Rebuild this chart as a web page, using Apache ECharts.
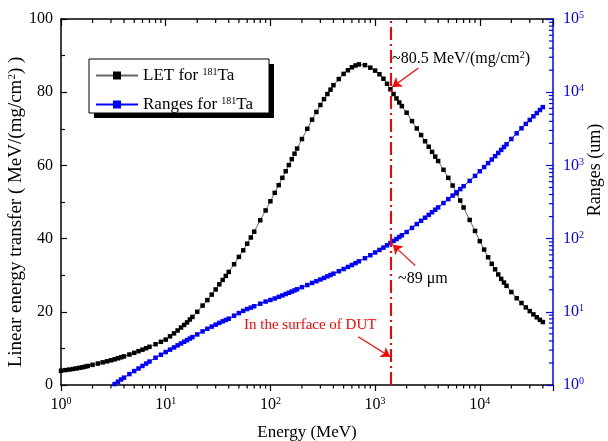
<!DOCTYPE html>
<html>
<head>
<meta charset="utf-8">
<script src="https://cdn.jsdelivr.net/npm/echarts@6/dist/echarts.min.js"></script>
<style>
  html, body { margin: 0; padding: 0; background: #fff; }
  #main { width: 608px; height: 441px; }
</style>
</head>
<body>
<div id="main"></div>
<script>
// energies (MeV), SRIM style grid
const energies = [
  1, 1.1, 1.2, 1.3, 1.4, 1.5, 1.6, 1.7, 1.8, 2, 2.25, 2.5, 2.75, 3, 3.25, 3.5, 3.75, 4, 4.5, 5, 5.5, 6, 6.5, 7, 8, 9,
  10, 11, 12, 13, 14, 15, 16, 17, 18, 20, 22.5, 25, 27.5, 30, 32.5, 35, 37.5, 40, 45, 50, 55, 60, 65, 70, 80, 90,
  100, 110, 120, 130, 140, 150, 160, 170, 180, 200, 225, 250, 275, 300, 325, 350, 375, 400, 450, 500, 550, 600, 650, 700, 800, 900,
  1000, 1100, 1200, 1300, 1400, 1500, 1600, 1700, 1800, 2000, 2250, 2500, 2750, 3000, 3250, 3500, 3750, 4000, 4500, 5000, 5500, 6000, 6500, 7000, 8000, 9000,
  10000, 11000, 12000, 13000, 14000, 15000, 16000, 17000, 18000, 20000, 22500, 25000, 27500, 30000, 32500, 35000, 37500, 40000
]
// LET, MeV/(mg/cm2)
const letValues = [
  3.9, 4.07, 4.22, 4.37, 4.53, 4.68, 4.83, 5.01, 5.19, 5.51, 5.86, 6.19, 6.47, 6.74, 7.01, 7.30, 7.57, 7.82, 8.33, 8.79, 9.24, 9.66, 10.05, 10.44, 11.14, 11.8,
  12.4, 13.3, 14.1, 14.9, 15.7, 16.4, 17.1, 17.9, 18.6, 20.0, 21.7, 23.2, 24.7, 26.1, 27.5, 28.7, 29.8, 30.9, 33.0, 35.0, 36.8, 38.6, 40.3, 41.9, 45.0, 47.7,
  50.2, 52.5, 54.6, 56.6, 58.4, 60.1, 61.7, 63.2, 64.6, 67.2, 70.0, 72.5, 74.6, 76.5, 78.1, 79.5, 80.7, 81.9, 83.6, 85.0, 86.0, 86.8, 87.3, 87.6, 87.4, 86.7,
  85.9, 84.9, 83.7, 82.3, 80.8, 79.5, 78.3, 77.2, 76.2, 74.4, 72.1, 70.1, 68.3, 66.6, 65.1, 63.7, 62.4, 61.2, 58.8, 56.6, 54.5, 52.4, 50.4, 48.5, 45.1, 42.1,
  39.3, 37.0, 34.9, 33.1, 31.6, 30.2, 29.0, 28.0, 27.1, 25.4, 23.7, 22.4, 21.2, 20.2, 19.3, 18.5, 17.8, 17.2
]
// projected range, um (below 1 um not shown)
const rangeValues = [
  null, null, null, null, null, null, null, null, null, null, null, null, null, null, 1.03, 1.11, 1.19, 1.26, 1.41, 1.55, 1.68, 1.82, 1.96, 2.09, 2.36, 2.59,
  2.82, 3.04, 3.26, 3.48, 3.69, 3.90, 4.10, 4.31, 4.51, 4.91, 5.40, 5.86, 6.27, 6.67, 7.05, 7.40, 7.73, 8.05, 8.85, 9.6, 10.3, 10.9, 11.4, 11.9, 12.9, 13.8,
  14.5, 15.2, 16.0, 16.7, 17.5, 18.2, 18.9, 19.6, 20.3, 21.7, 23.2, 24.8, 26.2, 27.6, 29.0, 30.5, 31.8, 33.2, 35.8, 38.4, 41.0, 43.6, 46.2, 48.9, 54.0, 59.3,
  64.6, 70.0, 75.3, 80.9, 86.9, 92.9, 98.6, 105, 111, 123, 140, 158, 175, 193, 211, 229, 248, 267, 306, 346, 387, 431, 474, 520, 615, 719,
  832, 949, 1074, 1202, 1337, 1479, 1629, 1782, 1945, 2296, 2742, 3214, 3690, 4178, 4677, 5188, 5715, 6250
]
const dutEnergy = 1400

// minor ticks for the log axes
const xMinorTicks = []
for (let d = 1; d <= 10000; d *= 10) {
  for (let k = 2; k <= 9; k++) if (k * d < 50000) xMinorTicks.push(k * d)
}
const yMinorTicks = []
for (let d = 1; d <= 10000; d *= 10) {
  for (let k = 2; k <= 9; k++) yMinorTicks.push(k * d)
}

const letData = energies.map((e, i) => [e, letValues[i]])
const rangeData = energies.map((e, i) => [e, rangeValues[i]]).filter(p => p[1] != null)

const FONT = 'Liberation Serif'
const supRich = { sup: { fontSize: 10, fontFamily: FONT, verticalAlign: 'top', padding: [0, 0, 7, 0] } }
const powLabel = (v) => {
  const e = Math.log10(v)
  if (Math.abs(e - Math.round(e)) > 1e-6) return ''
  return '10{sup|' + Math.round(e) + '}'
}

const myChart = echarts.init(document.getElementById('main'))
const option = {
  animation: false,
  textStyle: { fontFamily: FONT },
  grid: { left: 61, right: 55, top: 19, bottom: 56, outerBoundsMode: 'none', containLabel: false },
  legend: {
    data: ['LET', 'Ranges'],
    orient: 'vertical',
    left: 89,
    top: 59,
    itemWidth: 42,
    itemHeight: 10,
    itemGap: 12,
    padding: [8, 14, 8, 6],
    formatter: (name) => name + ' for {sup|181}Ta',
    textStyle: { fontSize: 17, color: '#000', fontFamily: FONT, rich: supRich },
    z: 10
  },
  xAxis: [
    {
      type: 'log', logBase: 10, min: 1, max: 50000,
      name: 'Energy (MeV)', nameLocation: 'middle', nameGap: 39,
      nameTextStyle: { fontSize: 17, color: '#000', fontFamily: FONT },
      axisLine: { lineStyle: { color: '#000', width: 1.5 } },
      axisTick: { inside: false, length: 6, lineStyle: { color: '#000', width: 1.2 } },
      axisLabel: { formatter: powLabel, color: '#000', fontSize: 16, margin: 11, rich: supRich },
      splitLine: { show: false }
    },
    {
      type: 'log', logBase: 10, min: 1, max: 50000, position: 'top',
      axisLine: { lineStyle: { color: '#000', width: 1.5 } },
      axisTick: { inside: true, length: 7, lineStyle: { color: '#000', width: 1.2 } },
      axisLabel: { show: false },
      splitLine: { show: false }
    }
  ],
  yAxis: [
    {
      type: 'value', min: 0, max: 100, interval: 20,
      name: 'Linear energy transfer ( MeV/(mg/cm{sup|2}) )', nameLocation: 'middle', nameGap: 35, nameRotate: 90,
      nameMoveOverlap: false,
      nameTextStyle: { fontSize: 19, color: '#000', fontFamily: FONT, padding: [0, 20, 0, 0], rich: { sup: { fontSize: 11, fontFamily: FONT, verticalAlign: 'top', padding: [0, 0, 8, 0] } } },
      axisLine: { lineStyle: { color: '#000', width: 1.5 } },
      axisTick: { inside: true, length: 6, lineStyle: { color: '#000', width: 1.2 } },
      minorTick: { show: true, splitNumber: 2, length: 4, lineStyle: { color: '#000', width: 1.2 } },
      axisLabel: { color: '#000', fontSize: 16, margin: 8 },
      splitLine: { show: false }
    },
    {
      type: 'log', logBase: 10, min: 1, max: 100000, position: 'right',
      name: 'Ranges (um)', nameLocation: 'middle', nameGap: 33, nameRotate: 90,
      nameMoveOverlap: false,
      nameTextStyle: { fontSize: 18, color: '#000', fontFamily: FONT, padding: [0, 0, 0, 64] },
      axisLine: { lineStyle: { color: '#0000ff', width: 1.5 } },
      axisTick: { inside: true, length: 7, lineStyle: { color: '#0000ff', width: 1.2 } },
      axisLabel: { formatter: powLabel, color: '#0000ff', fontSize: 16, margin: 10, rich: supRich },
      splitLine: { show: false }
    }
  ],
  series: [
    {
      name: 'LET', type: 'line', xAxisIndex: 0, yAxisIndex: 0,
      data: letData,
      symbol: 'rect', symbolSize: 4.5,
      itemStyle: { color: '#000' },
      lineStyle: { color: '#666', width: 1 },
      z: 3,
      markLine: {
        silent: true,
        symbol: ['none', 'arrow'],
        symbolSize: 9,
        label: { show: false },
        lineStyle: { color: '#ff0000', width: 1.2, type: 'solid' },
        data: [
          [{ coord: [2590, 86.6] }, { coord: [1460, 81.4] }],
          [{ coord: [2420, 32.6] }, { coord: [1480, 38.3] }],
          [{ coord: [690, 13.2] }, { coord: [1390, 7.7] }]
        ]
      }
    },
    {
      name: 'Ranges', type: 'line', xAxisIndex: 0, yAxisIndex: 1,
      data: rangeData,
      symbol: 'rect', symbolSize: 4.5,
      itemStyle: { color: '#0000ff' },
      lineStyle: { color: '#0000ff', width: 1 },
      z: 3,
      markLine: {
        silent: true,
        symbol: 'none',
        label: { show: false },
        lineStyle: { color: '#ff0000', width: 2, type: [13, 4, 2, 4] },
        data: [{ xAxis: dutEnergy }]
      }
    },
    {
      // minor ticks of the energy axes
      type: 'custom', xAxisIndex: 0, yAxisIndex: 0, silent: true, clip: false,
      data: xMinorTicks.map(v => [v, 50]),
      renderItem: (params, api) => {
        const cs = params.coordSys
        const x = api.coord([api.value(0), 50])[0]
        const style = { stroke: '#000', lineWidth: 1.2 }
        return {
          type: 'group',
          children: [
            { type: 'line', shape: { x1: x, y1: cs.y + cs.height, x2: x, y2: cs.y + cs.height + 3.5 }, style },
            { type: 'line', shape: { x1: x, y1: cs.y, x2: x, y2: cs.y + 4 }, style }
          ]
        }
      }
    },
    {
      // minor ticks of the range axis
      type: 'custom', xAxisIndex: 0, yAxisIndex: 1, silent: true, clip: false,
      data: yMinorTicks.map(v => [10, v]),
      renderItem: (params, api) => {
        const cs = params.coordSys
        const y = api.coord([10, api.value(1)])[1]
        const right = cs.x + cs.width
        return {
          type: 'line',
          shape: { x1: right - 4, y1: y, x2: right, y2: y },
          style: { stroke: '#0000ff', lineWidth: 1.2 }
        }
      }
    }
  ],
  graphic: [
    // legend frame with its drop shadow
    { type: 'rect', z: 1, silent: true, shape: { x: 94, y: 64, width: 180, height: 54 }, style: { fill: '#000' } },
    { type: 'rect', z: 2, silent: true, shape: { x: 89, y: 59, width: 180, height: 54 }, style: { fill: '#fff', stroke: '#000', lineWidth: 1 } },
    {
      type: 'text', left: 392, top: 50, silent: true,
      style: { text: '~80.5 MeV/(mg/cm{sup|2})', fontSize: 16, fontFamily: FONT, fill: '#000', rich: supRich }
    },
    {
      type: 'text', left: 398, top: 271, silent: true,
      style: { text: '~89 \u03bcm', fontSize: 16, fontFamily: FONT, fill: '#000' }
    },
    {
      type: 'text', left: 244, top: 318, silent: true,
      style: { text: 'In the surface of DUT', fontSize: 15, fontFamily: FONT, fill: '#ff0000' }
    }
  ]
}
myChart.setOption(option)
window.onresize = () => {
  myChart.resize()
}
</script>
</body>
</html>
